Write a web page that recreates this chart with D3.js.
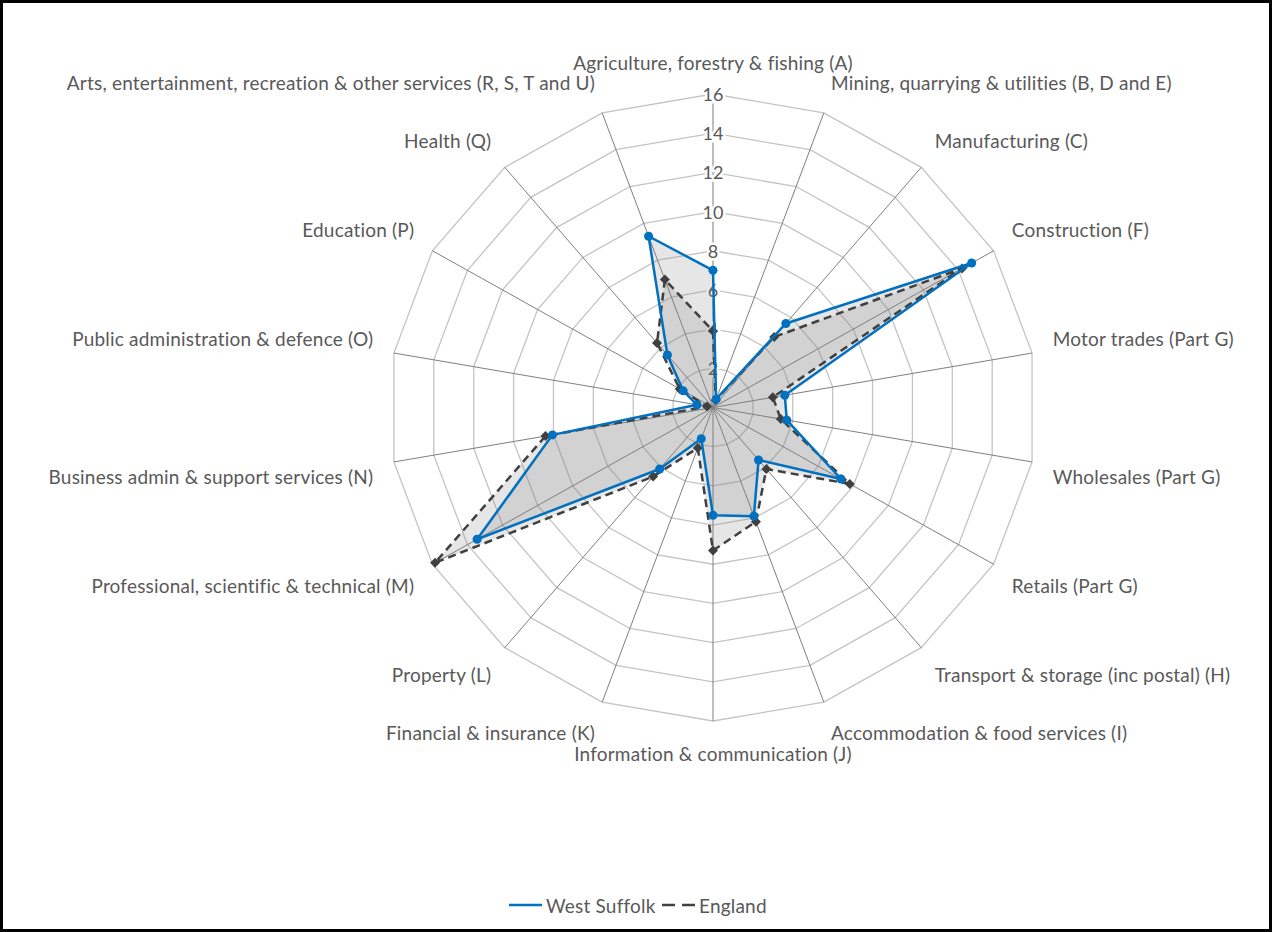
<!DOCTYPE html>
<html>
<head>
<meta charset="utf-8">
<script src="https://cdn.jsdelivr.net/npm/d3@7"></script>
<style>
  html, body { margin: 0; padding: 0; background: #fff; }
  svg { display: block; font-family: Lato, "Open Sans", sans-serif; }
</style>
</head>
<body>
<div id="chart"></div>
<script>
const categories = [
    "Agriculture, forestry & fishing (A)",
    "Mining, quarrying & utilities (B, D and E)",
    "Manufacturing (C)",
    "Construction (F)",
    "Motor trades (Part G)",
    "Wholesales (Part G)",
    "Retails (Part G)",
    "Transport & storage (inc postal) (H)",
    "Accommodation & food services (I)",
    "Information & communication (J)",
    "Financial & insurance (K)",
    "Property (L)",
    "Professional, scientific & technical (M)",
    "Business admin & support services (N)",
    "Public administration & defence (O)",
    "Education (P)",
    "Health (Q)",
    "Arts, entertainment, recreation & other services (R, S, T and U)"
];
const westSuffolk = [7.0, 0.45, 5.6, 14.75, 3.6, 3.7, 7.3, 3.5, 5.9, 5.5, 1.7, 4.1, 13.45, 8.05, 0.8, 1.7, 3.5, 9.3];
const england = [3.9, 0.4, 4.7, 14.2, 3.0, 3.4, 7.8, 4.1, 6.2, 7.3, 2.2, 4.6, 15.85, 8.4, 0.3, 1.9, 4.3, 6.95];
const ticks = [2, 4, 6, 8, 10, 12, 14, 16];
const seriesNames = ["West Suffolk", "England"];

function init() {
    const width = 1272, height = 932;
    const cx = 713, cy = 407.5;
    const n = categories.length;

    const svg = d3.select("#chart")
        .append("svg")
        .attr("width", width)
        .attr("height", height);

    svg.append("rect")
        .attr("x", 1.5).attr("y", 1.5)
        .attr("width", width - 3).attr("height", height - 3)
        .attr("fill", "#fff")
        .attr("stroke", "#000")
        .attr("stroke-width", 3);

    // the picture is a little wider than tall, so x and y get their own radius
    const rx = d3.scaleLinear().domain([0, 16]).range([0, 324]);
    const ry = d3.scaleLinear().domain([0, 16]).range([0, 313.5]);
    const angle = i => i * 2 * Math.PI / n;
    const pt = (i, v) => [cx + rx(v) * Math.sin(angle(i)), cy - ry(v) * Math.cos(angle(i))];

    const line = d3.line().curve(d3.curveLinearClosed);

    // rings
    svg.append("g")
        .selectAll("path")
        .data(ticks)
        .join("path")
        .attr("d", t => line(categories.map((c, i) => pt(i, t))))
        .attr("fill", "none")
        .attr("stroke", "#c4c4c4")
        .attr("stroke-width", 1.3);

    // spokes
    svg.append("g")
        .selectAll("line")
        .data(categories)
        .join("line")
        .attr("x1", cx).attr("y1", cy)
        .attr("x2", (d, i) => pt(i, 16)[0])
        .attr("y2", (d, i) => pt(i, 16)[1])
        .attr("stroke", (d, i) => i === 0 ? "#bdbdbd" : "#7f7f7f")
        .attr("stroke-width", (d, i) => i === 0 ? 2 : 1);

    // value axis labels
    const tl = svg.append("g")
        .attr("font-size", 18)
        .attr("fill", "#595959")
        .attr("text-anchor", "middle");
    tl.selectAll("text")
        .data(ticks)
        .join("text")
        .attr("x", cx)
        .attr("y", t => cy - ry(t))
        .attr("dominant-baseline", "central")
        .attr("stroke", "#fff")
        .attr("stroke-width", 5)
        .attr("paint-order", "stroke")
        .text(t => t);

    // category labels
    const gap = 21;
    svg.append("g")
        .attr("font-size", 19)
        .attr("letter-spacing", 0.2)
        .attr("fill", "#595959")
        .selectAll("text")
        .data(categories)
        .join("text")
        .attr("x", (d, i) => cx + (rx(16) + gap) * Math.sin(angle(i)))
        .attr("y", (d, i) => {
            const c = Math.cos(angle(i));
            let y = cy - (ry(16) + gap) * c;
            if (c > 0.01) y -= 11;
            else if (c < -0.01) y += 11;
            return y;
        })
        .attr("dominant-baseline", "central")
        .attr("text-anchor", (d, i) => {
            const s = Math.sin(angle(i));
            return s > 0.01 ? "start" : s < -0.01 ? "end" : "middle";
        })
        .text(d => d);

    const series = [
        { name: "England", values: england, color: "#404040", dash: "8,5" },
        { name: "West Suffolk", values: westSuffolk, color: "#0070c0", dash: null }
    ];

    // filled areas
    series.forEach(s => {
        svg.append("path")
            .attr("d", line(s.values.map((v, i) => pt(i, v))))
            .attr("fill", "#808080")
            .attr("fill-opacity", 0.2)
            .attr("stroke", "none");
    });

    series.forEach(s => {
        svg.append("path")
            .attr("d", line(s.values.map((v, i) => pt(i, v))))
            .attr("fill", "none")
            .attr("stroke", s.color)
            .attr("stroke-width", 2.5)
            .attr("stroke-dasharray", s.dash)
            .attr("stroke-linejoin", "round");

        const m = svg.append("g").selectAll("path")
            .data(s.values)
            .join("path")
            .attr("transform", (v, i) => `translate(${pt(i, v)})`)
            .attr("fill", s.color);
        if (s.name === "England") {
            m.attr("d", d3.symbol(d3.symbolSquare, 50)).attr("transform", (v, i) => `translate(${pt(i, v)}) rotate(45)`);
        } else {
            m.attr("d", d3.symbol(d3.symbolCircle, 64));
        }
    });

    // legend
    const legend = svg.append("g")
        .attr("font-size", 19)
        .attr("letter-spacing", 0.2)
        .attr("fill", "#595959");
    const lx = [509, 662];
    seriesNames.forEach((name, k) => {
        const s = series.find(d => d.name === name);
        legend.append("line")
            .attr("x1", lx[k]).attr("x2", lx[k] + 33)
            .attr("y1", 905).attr("y2", 905)
            .attr("stroke", s.color)
            .attr("stroke-width", 2.5)
            .attr("stroke-dasharray", s.dash ? "13,7" : null);
        legend.append("text")
            .attr("x", lx[k] + 37)
            .attr("y", 905)
            .attr("dominant-baseline", "central")
            .text(name);
    });
}

window.onload = init;
</script>
</body>
</html>
